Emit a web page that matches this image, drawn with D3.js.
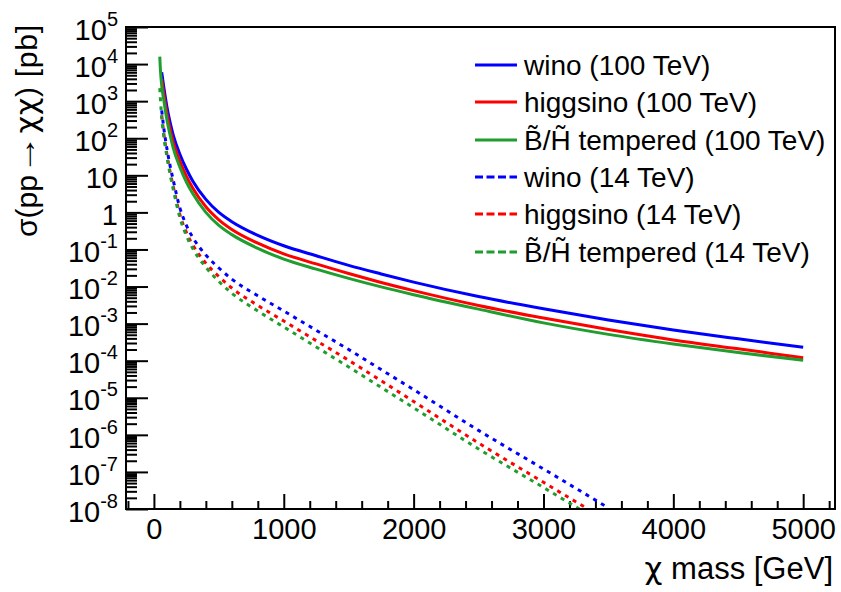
<!DOCTYPE html>
<html>
<head>
<meta charset="utf-8">
<script src="https://cdn.jsdelivr.net/npm/d3@7"></script>
<style>
  html, body { margin: 0; padding: 0; background: #fff; }
  svg { display: block; }
  text { font-family: "Liberation Sans", Arial, Helvetica, sans-serif; fill: #000; }
  .greek { font-family: "DejaVu Sans", "Noto Sans", sans-serif; }
</style>
</head>
<body>
<svg id="chart" width="841" height="592"></svg>
<script>
// ---- data ----
// masses in GeV
const massesWH = [60, 75, 100, 125, 150, 200, 250, 300, 400, 500, 600, 800, 1000, 1250, 1500, 1750, 2000, 2500, 3000, 3500, 4000, 4500, 5000];
const massesBH = [45, 50, 60, 75, 100, 125, 150, 200, 250, 300, 400, 500, 600, 800, 1000, 1250, 1500, 1750, 2000, 2500, 3000, 3500, 4000, 4500, 5000];
const massesWH14 = [60, 75, 100, 125, 150, 200, 250, 300, 400, 500, 600, 800, 1000, 1250, 1500, 1750, 2000, 2500, 3000, 3500];
const massesBH14 = [45, 50, 60, 75, 100, 125, 150, 200, 250, 300, 400, 500, 600, 800, 1000, 1250, 1500, 1750, 2000, 2500, 3000, 3500];

// log10(sigma / pb)
const wino100     = [3.78, 3.40, 2.85, 2.42, 2.07, 1.57, 1.17, 0.84, 0.35, 0.00, -0.25, -0.62, -0.90, -1.17, -1.43, -1.66, -1.88, -2.27, -2.60, -2.90, -3.17, -3.41, -3.64];
const higgsino100 = [3.60, 3.22, 2.67, 2.24, 1.88, 1.38, 0.98, 0.65, 0.15, -0.20, -0.46, -0.83, -1.12, -1.39, -1.65, -1.89, -2.11, -2.51, -2.85, -3.16, -3.44, -3.68, -3.92];
const tempered100 = [4.20, 3.85, 3.42, 3.05, 2.50, 2.08, 1.72, 1.22, 0.82, 0.50, 0.00, -0.35, -0.60, -0.97, -1.26, -1.53, -1.78, -2.01, -2.22, -2.61, -2.98, -3.29, -3.55, -3.78, -3.99];
const wino14      = [2.75, 2.30, 1.72, 1.25, 0.85, 0.12, -0.35, -0.68, -1.15, -1.50, -1.80, -2.25, -2.66, -3.18, -3.70, -4.24, -4.78, -5.88, -6.92, -7.97];
const higgsino14  = [2.62, 2.16, 1.57, 1.09, 0.68, -0.06, -0.54, -0.88, -1.37, -1.73, -2.04, -2.51, -2.93, -3.46, -3.99, -4.54, -5.10, -6.22, -7.28, -8.33];
const tempered14  = [3.35, 3.05, 2.55, 2.08, 1.50, 1.02, 0.60, -0.14, -0.63, -0.98, -1.48, -1.86, -2.18, -2.66, -3.09, -3.63, -4.17, -4.72, -5.27, -6.38, -7.42, -8.47];

const legendLabels = [
  "wino (100 TeV)",
  "higgsino (100 TeV)",
  "B\u0303/H\u0303 tempered (100 TeV)",
  "wino (14 TeV)",
  "higgsino (14 TeV)",
  "B\u0303/H\u0303 tempered (14 TeV)"
];
const xTickValues = [0, 1000, 2000, 3000, 4000, 5000];
const yExponents = [-8, -7, -6, -5, -4, -3, -2, -1, 0, 1, 2, 3, 4, 5];

const BLUE = "#0000ff", RED = "#ff0000", GREEN = "#1f9e2f";

const series = [
  { m: massesWH,   v: wino100,     color: BLUE,  dash: null },
  { m: massesWH,   v: higgsino100, color: RED,   dash: null },
  { m: massesBH,   v: tempered100, color: GREEN, dash: null },
  { m: massesWH14, v: wino14,      color: BLUE,  dash: "4,5" },
  { m: massesWH14, v: higgsino14,  color: RED,   dash: "4,5" },
  { m: massesBH14, v: tempered14,  color: GREEN, dash: "4,5" }
];

// ---- layout ----
const L = 126, R = 835, T = 27, B = 509;
const svg = d3.select("#chart");

const x = d3.scaleLinear().domain([-215, 5245]).range([L, R]);
const y = d3.scaleLog().domain([1e-8, 1e5]).range([B, T]);

svg.append("defs").append("clipPath").attr("id", "frameClip")
  .append("rect").attr("x", L).attr("y", T).attr("width", R - L).attr("height", B - T);

// minor x ticks
const xMinor = d3.range(-200, 5201, 200).filter(v => v % 1000 !== 0);
svg.append("g").attr("transform", `translate(0,${B})`)
  .call(d3.axisBottom(x).tickValues(xMinor).tickSizeInner(-8).tickSizeOuter(0).tickFormat(""))
  .call(g => g.select(".domain").remove())
  .call(g => g.selectAll("line").attr("stroke", "#000").attr("stroke-width", 2));

// major x ticks
svg.append("g").attr("transform", `translate(0,${B})`)
  .call(d3.axisBottom(x).tickValues(xTickValues).tickSizeInner(-15).tickSizeOuter(0).tickPadding(9).tickFormat(d3.format("d")))
  .call(g => g.select(".domain").remove())
  .call(g => g.selectAll("line").attr("stroke", "#000").attr("stroke-width", 2))
  .call(g => g.selectAll("text").attr("font-size", "29px").attr("fill", "#000")
        .attr("font-family", "Liberation Sans, Arial, sans-serif"));

// minor y ticks
const yMinor = [];
for (let e = -8; e < 5; e++) for (let k = 2; k <= 9; k++) yMinor.push(k * Math.pow(10, e));
svg.append("g").attr("transform", `translate(${L},0)`)
  .call(d3.axisLeft(y).tickValues(yMinor).tickSizeInner(-11).tickSizeOuter(0).tickFormat(""))
  .call(g => g.select(".domain").remove())
  .call(g => g.selectAll("line").attr("stroke", "#000").attr("stroke-width", 2));

// major y ticks
const gy = svg.append("g").attr("transform", `translate(${L},0)`)
  .call(d3.axisLeft(y).tickValues(yExponents.map(e => Math.pow(10, e))).tickSizeInner(-22).tickSizeOuter(0).tickPadding(8).tickFormat(""))
  .call(g => g.select(".domain").remove())
  .call(g => g.selectAll("line").attr("stroke", "#000").attr("stroke-width", 2));

gy.selectAll(".tick text").each(function(d) {
  const e = Math.round(Math.log10(d));
  const t = d3.select(this)
    .attr("font-size", "29px").attr("fill", "#000").attr("dy", "0.42em")
    .attr("font-family", "Liberation Sans, Arial, sans-serif");
  t.text(null);
  if (e === 0) t.text("1");
  else if (e === 1) t.text("10");
  else {
    t.append("tspan").text("10");
    t.append("tspan").attr("dy", -14).attr("font-size", "20px").text(String(e));
  }
});

// curves
const line = d3.line()
  .x(d => x(d[0]))
  .y(d => y(Math.pow(10, d[1])))
  .curve(d3.curveMonotoneX);

const gCurves = svg.append("g").attr("clip-path", "url(#frameClip)");
const order = [3, 4, 5, 0, 1, 2];
order.forEach(i => {
  const s = series[i];
  const pts = s.m.map((m, j) => [m, s.v[j]]);
  gCurves.append("path")
    .attr("d", line(pts))
    .attr("fill", "none")
    .attr("stroke", s.color)
    .attr("stroke-width", 3)
    .attr("stroke-dasharray", s.dash);
});

// frame
svg.append("rect").attr("x", L).attr("y", T).attr("width", R - L).attr("height", B - T)
  .attr("fill", "none").attr("stroke", "#000").attr("stroke-width", 2);

// legend
const legRows = [65, 102, 140, 177, 214, 252];
const leg = svg.append("g");
series.forEach((s, i) => {
  const cy = legRows[i];
  leg.append("line").attr("x1", 475).attr("x2", 517).attr("y1", cy).attr("y2", cy)
    .attr("stroke", s.color).attr("stroke-width", 3)
    .attr("stroke-dasharray", s.dash ? "8,3.5" : null);
  leg.append("text").attr("x", 524).attr("y", cy + 10)
    .attr("font-size", "28px").text(legendLabels[i]);
});

// x title
const xt = svg.append("text").attr("x", 833).attr("y", 579).attr("text-anchor", "end")
  .attr("font-size", "31px");
xt.append("tspan").attr("class", "greek").text("\u03c7");
xt.append("tspan").text(" mass [GeV]");

// y title: built left-to-right in rotated frame, long arrow like the original
const yt = svg.append("g").attr("transform", "translate(37,0) rotate(-90)");
const yStart = -237, yEnd = -25;
const pA = yt.append("text").attr("x", yStart).attr("y", 0).attr("font-size", "30px").text("\u03c3(pp");
const wA = pA.node().getComputedTextLength();
const arrowLen = 40;
yt.append("text").attr("x", yStart + wA + 1).attr("y", -2).attr("font-size", "30px")
  .attr("textLength", arrowLen).attr("lengthAdjust", "spacingAndGlyphs").text("\u2192");
const cStart = yStart + wA + 1 + arrowLen + 1;
const pC = yt.append("text").attr("x", cStart).attr("y", 0).attr("font-size", "30px");
pC.append("tspan").attr("class", "greek").text("\u03c7\u03c7");
pC.append("tspan").text(") [pb]");
const wC = pC.node().getComputedTextLength();
const want = yEnd - cStart;
if (Math.abs(wC - want) > 3) pC.attr("textLength", want).attr("lengthAdjust", "spacing");
</script>
</body>
</html>
